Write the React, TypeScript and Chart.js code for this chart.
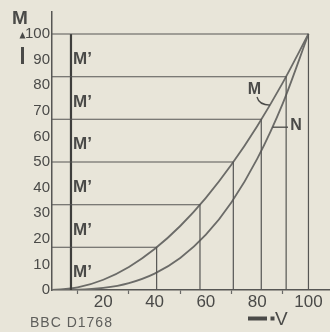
import React, { useEffect, useRef } from "react";
import { Chart, registerables } from "chart.js";

Chart.register(...registerables);

// ---- data ----
const voltages = [0, 10, 20, 30, 40, 50, 60, 70, 80, 90, 100];
const curveM = [0, 1, 4, 9, 16, 25, 36, 49, 64, 81, 100];
const curveN = [0, 0.1, 0.8, 2.7, 6.4, 12.5, 21.6, 34.3, 51.2, 72.9, 100];
const stepLevels = [16.7, 33.3, 50, 66.7, 83.3, 100];
const stepVoltages = [40.8, 57.7, 70.7, 81.6, 91.3, 100];
const markerVoltage = 7.4;
const bandLabel = "M’";
const xLabelValues = [20, 40, 60, 80, 100];
const yTickStep = 10;
const xTickStep = 10;
const xMax = 108.4;
const yMax = 108.6;

const BG = "#e8e5d9";
const TEXT = "#4a4a48";
const LINE = "#565654";
const CURVE = "#6b6b68";
const FONT = "'Liberation Sans', Arial, sans-serif";

const annotations = {
  id: "annotations",
  afterDatasetsDraw(chart: any) {
    const { ctx } = chart;
    const x = chart.scales.x;
    const y = chart.scales.y;
    ctx.save();
    ctx.fillStyle = TEXT;
    ctx.strokeStyle = TEXT;

    // M' band labels
    ctx.font = `bold 17px ${FONT}`;
    ctx.textAlign = "left";
    ctx.textBaseline = "middle";
    const bounds = [0, ...stepLevels];
    for (let k = 0; k < stepLevels.length; k++) {
      const mid = (bounds[k] + bounds[k + 1]) / 2;
      ctx.fillText(bandLabel, x.getPixelForValue(markerVoltage) + 2, y.getPixelForValue(mid) + 4);
    }

    // Y title "M" with up arrow
    ctx.font = `bold 19px ${FONT}`;
    ctx.textAlign = "center";
    ctx.fillText("M", 20, 19);
    ctx.beginPath();
    ctx.moveTo(22.5, 32);
    ctx.lineTo(25.5, 38.5);
    ctx.lineTo(19.5, 38.5);
    ctx.closePath();
    ctx.fill();
    ctx.fillRect(21, 47, 3, 17);

    // curve labels
    ctx.font = `bold 16px ${FONT}`;
    ctx.fillText("M", 254.5, 90);
    ctx.fillText("N", 296, 126);
    ctx.lineWidth = 1.3;
    const mx = x.getPixelForValue(85);
    const my = y.getPixelForValue(72.25);
    ctx.beginPath();
    ctx.moveTo(257, 97);
    ctx.quadraticCurveTo(259, my, mx, my);
    ctx.stroke();
    const nx = x.getPixelForValue(86);
    const ny = y.getPixelForValue(63.6);
    ctx.beginPath();
    ctx.moveTo(nx, ny);
    ctx.lineTo(288, ny);
    ctx.stroke();

    // x title with arrow
    ctx.fillRect(248, 316.5, 19, 4);
    ctx.fillRect(270.5, 316.5, 4, 4);
    ctx.font = `19px ${FONT}`;
    ctx.textAlign = "left";
    ctx.fillText("V", 275, 320);

    // drawing number
    ctx.fillStyle = "#5e5e5b";
    ctx.font = `14px ${FONT}`;
    ctx.textAlign = "left";
    (ctx as any).letterSpacing = "1px";
    ctx.fillText("BBC D1768", 30, 323);
    ctx.restore();
  },
};

export default function App() {
  const ref = useRef<HTMLCanvasElement | null>(null);

  useEffect(() => {
    if (!ref.current) return;
    const stepSets = stepLevels.map((lvl, k) => ({
      data: [
        { x: 0, y: lvl },
        { x: stepVoltages[k], y: lvl },
        { x: stepVoltages[k], y: 0 },
      ],
      borderColor: LINE,
      borderWidth: 1.2,
      pointRadius: 0,
      tension: 0,
      fill: false,
    }));
    const chart = new Chart(ref.current, {
      type: "line",
      data: {
        datasets: [
          ...stepSets,
          {
            data: [
              { x: markerVoltage, y: 0 },
              { x: markerVoltage, y: 100 },
            ],
            borderColor: "#3e3e3c",
            borderWidth: 2.2,
            pointRadius: 0,
          },
          {
            data: voltages.map((v, i) => ({ x: v, y: curveM[i] })),
            borderColor: CURVE,
            borderWidth: 1.8,
            pointRadius: 0,
            cubicInterpolationMode: "monotone",
          },
          {
            data: voltages.map((v, i) => ({ x: v, y: curveN[i] })),
            borderColor: CURVE,
            borderWidth: 1.8,
            pointRadius: 0,
            cubicInterpolationMode: "monotone",
          },
        ] as any,
      },
      options: {
        animation: false,
        responsive: false,
        maintainAspectRatio: false,
        layout: { padding: { top: 12, left: 0, right: 0, bottom: 0 } },
        plugins: { legend: { display: false }, tooltip: { enabled: false } },
        scales: {
          x: {
            type: "linear",
            min: 0,
            max: xMax,
            afterFit(scale: any) {
              scale.height = 42;
            },
            border: { display: true, color: LINE, width: 1.5 },
            grid: {
              drawOnChartArea: false,
              drawTicks: true,
              tickLength: 4,
              tickWidth: 1.2,
              tickColor: (c: any) =>
                c.tick && c.tick.value % 20 === 10 ? "#6a6a68" : "rgba(0,0,0,0)",
            },
            ticks: {
              stepSize: xTickStep,
              includeBounds: false,
              autoSkip: false,
              maxRotation: 0,
              padding: -2,
              color: TEXT,
              font: { family: FONT, size: 17 },
              callback: (v: any) => (xLabelValues.includes(Number(v)) ? String(v) : ""),
            },
          },
          y: {
            type: "linear",
            min: 0,
            max: yMax,
            afterFit(scale: any) {
              scale.width = 52;
            },
            border: { display: true, color: LINE, width: 1.5 },
            grid: { display: false, drawTicks: false },
            ticks: {
              stepSize: yTickStep,
              includeBounds: false,
              autoSkip: false,
              padding: 2,
              color: TEXT,
              font: { family: FONT, size: 15 },
              callback: (v: any) => (Number(v) <= 100 ? String(v) : ""),
            },
          },
        },
      },
      plugins: [annotations],
    });
    return () => chart.destroy();
  }, []);

  return (
    <div
      style={{
        position: "absolute",
        left: 0,
        top: 0,
        width: 330,
        height: 332,
        background: BG,
      }}
    >
      <canvas ref={ref} width={330} height={332} style={{ display: "block" }} />
    </div>
  );
}
